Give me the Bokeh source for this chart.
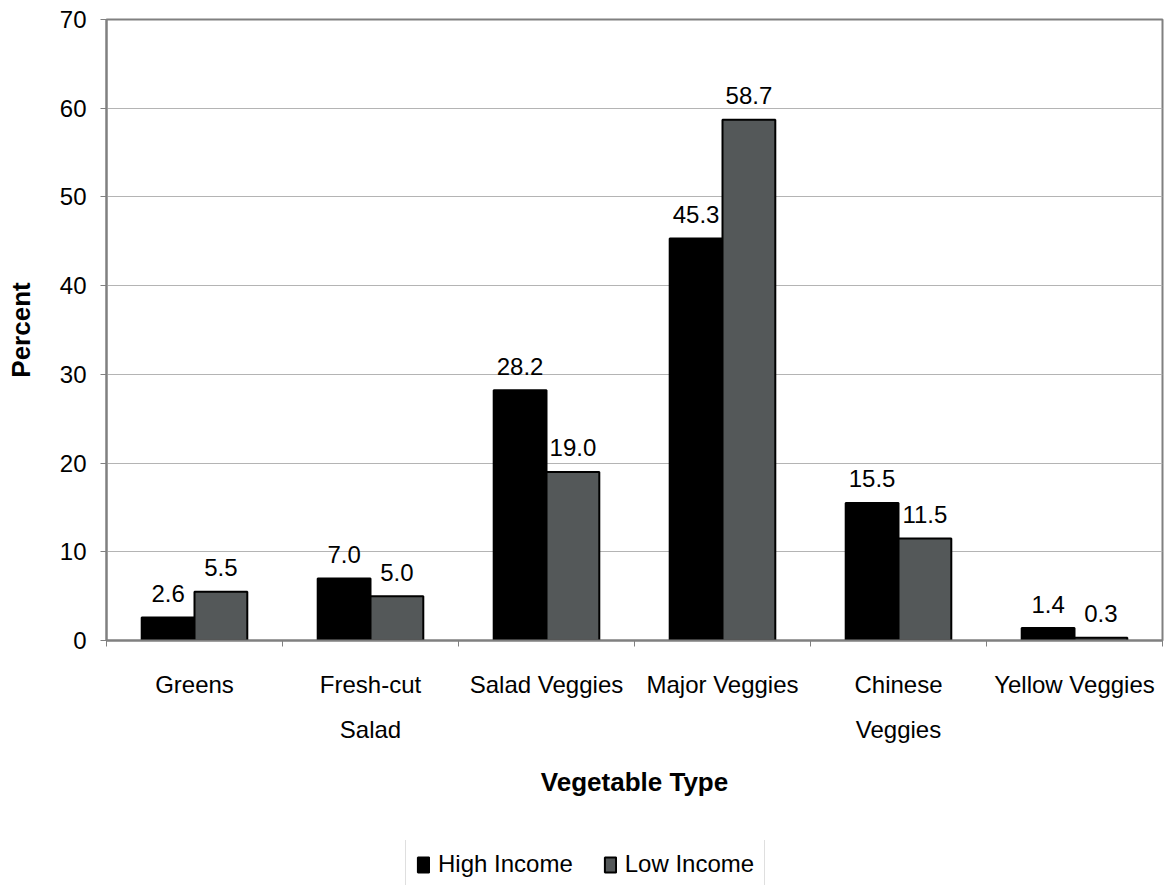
from bokeh.plotting import figure
from bokeh.layouts import column
from bokeh.models import Range1d, FixedTicker, Legend, LegendItem, ColumnDataSource
from bokeh.core.properties import value
from bokeh.embed import file_html
from bokeh.resources import INLINE

# Share of shoppers buying each vegetable type, by income group (percent)
categories = ["Greens", "Fresh-cut\nSalad", "Salad Veggies", "Major Veggies",
              "Chinese\nVeggies", "Yellow Veggies"]
high_income = [2.6, 7.0, 28.2, 45.3, 15.5, 1.4]
low_income = [5.5, 5.0, 19.0, 58.7, 11.5, 0.3]
y_ticks = [0, 10, 20, 30, 40, 50, 60, 70]
series_names = ["High Income", "Low Income"]

FONT = "Liberation Sans"
HIGH_COLOR = "#000000"
LOW_COLOR = "#545859"
FRAME = "#808080"

n = len(categories)
centers = [i + 0.5 for i in range(n)]
bar_w = 0.3

src = ColumnDataSource(dict(
    x_high=[c - bar_w / 2 for c in centers],
    x_low=[c + bar_w / 2 for c in centers],
    high=high_income,
    low=low_income,
    high_lbl=[f"{v:.1f}" for v in high_income],
    low_lbl=[f"{v:.1f}" for v in low_income],
))

high_style = dict(fill_color=HIGH_COLOR, line_color="black", line_width=2)
low_style = dict(fill_color=LOW_COLOR, line_color="black", line_width=2)

# ---- main chart -------------------------------------------------------
p = figure(x_range=Range1d(0, n), y_range=Range1d(0, 70),
           width=1164, height=840,
           output_backend="svg", toolbar_location=None,
           min_border_left=106, min_border_right=2, min_border_top=19,
           min_border_bottom=200)

p.vbar(x="x_high", top="high", width=bar_w, source=src, **high_style)
p.vbar(x="x_low", top="low", width=bar_w, source=src, **low_style)

label_style = dict(text_font=value(FONT), text_font_size="24px",
                   text_color="black", text_align="center",
                   text_baseline="alphabetic", y_offset=-24)
p.text(x="x_high", y="high", text="high_lbl", source=src, **label_style)
p.text(x="x_low", y="low", text="low_lbl", source=src, **label_style)

# frame and grid
p.outline_line_color = FRAME
p.outline_line_width = 2
p.background_fill_color = "white"
p.border_fill_color = "white"
p.xgrid.visible = False
p.ygrid.ticker = FixedTicker(ticks=y_ticks)
p.ygrid.grid_line_color = "#b4b4b4"
p.ygrid.grid_line_width = 1

# x axis: labels at group centres, tick marks at group boundaries
xa = p.xaxis[0]
xa.ticker = FixedTicker(ticks=centers, minor_ticks=list(range(n + 1)))
xa.major_label_overrides = {c: lbl for c, lbl in zip(centers, categories)}
xa.major_tick_out = 0
xa.major_tick_in = 0
xa.minor_tick_out = 6
xa.minor_tick_in = 0
xa.minor_tick_line_color = FRAME
xa.axis_line_color = FRAME
xa.axis_line_width = 2
xa.major_label_text_font = FONT
xa.major_label_text_font_size = "24px"
xa.major_label_text_color = "black"
xa.major_label_text_line_height = 1.7
xa.major_label_standoff = 24
xa.axis_label = "Vegetable Type"
xa.axis_label_text_font = FONT
xa.axis_label_text_font_style = "bold"
xa.axis_label_text_font_size = "26px"
xa.axis_label_text_color = "black"
xa.axis_label_standoff = 21

# y axis
ya = p.yaxis[0]
ya.ticker = FixedTicker(ticks=y_ticks)
ya.major_tick_out = 6
ya.major_tick_in = 0
ya.minor_tick_out = 0
ya.minor_tick_in = 0
ya.major_tick_line_color = FRAME
ya.axis_line_color = FRAME
ya.axis_line_width = 2
ya.major_label_text_font = FONT
ya.major_label_text_font_size = "24px"
ya.major_label_text_color = "black"
ya.major_label_standoff = 14
ya.axis_label = "Percent"
ya.axis_label_text_font = FONT
ya.axis_label_text_font_style = "bold"
ya.axis_label_text_font_size = "26px"
ya.axis_label_text_color = "black"
ya.axis_label_standoff = 21

# ---- legend strip under the chart --------------------------------------
# (its frame lines up with the chart frame, so x positions start at x=106)
leg = figure(width=1164, height=45, x_range=Range1d(0, n), y_range=Range1d(0, 70),
             x_axis_type=None, y_axis_type=None, output_backend="svg",
             toolbar_location=None, min_border=0)
leg.outline_line_color = None
leg.grid.visible = False
leg.border_fill_color = "white"

k_high = leg.vbar(x="x_high", top="high", width=bar_w, source=src,
                  visible=False, **high_style)
k_low = leg.vbar(x="x_low", top="low", width=bar_w, source=src,
                 visible=False, **low_style)

legend = Legend(items=[LegendItem(label=series_names[0], renderers=[k_high]),
                       LegendItem(label=series_names[1], renderers=[k_low])],
                orientation="horizontal", location=(299, -4),
                label_text_font=FONT, label_text_font_size="24px",
                label_text_color="black", glyph_width=14, glyph_height=19,
                label_standoff=8, spacing=30, padding=10, margin=0,
                inactive_fill_alpha=0,
                border_line_color="#c0c0c0", border_line_width=1,
                background_fill_color="white", background_fill_alpha=1)
leg.add_layout(legend, "center")

layout = column(p, leg, spacing=0)
open("out.html", "w").write(file_html(layout, INLINE))
